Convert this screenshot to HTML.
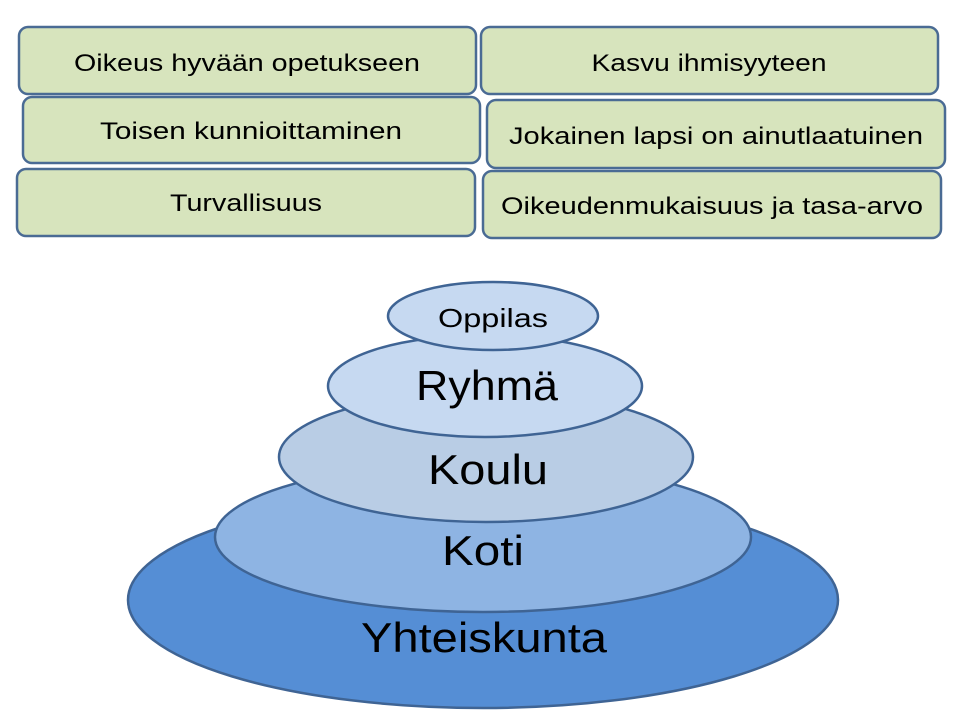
<!DOCTYPE html>
<html><head><meta charset="utf-8"><style>body{margin:0;background:#fff}svg{display:block}</style></head>
<body>
<svg width="960" height="720" xmlns="http://www.w3.org/2000/svg" font-family="Liberation Sans, sans-serif">
<g fill="#d7e4bd" stroke="#4a6b94" stroke-width="2.5">
<rect x="19" y="27" width="457" height="67" rx="9"/>
<rect x="481" y="27" width="457" height="67" rx="9"/>
<rect x="23" y="97" width="457" height="66" rx="9"/>
<rect x="487" y="100" width="458" height="68" rx="9"/>
<rect x="17" y="169" width="458" height="67" rx="9"/>
<rect x="483" y="171" width="458" height="67" rx="9"/>
</g>
<g font-size="24" fill="#000" text-anchor="middle">
<text x="247" y="71" textLength="346" lengthAdjust="spacingAndGlyphs">Oikeus hyvään opetukseen</text>
<text x="709" y="71" textLength="235" lengthAdjust="spacingAndGlyphs">Kasvu ihmisyyteen</text>
<text x="251" y="139" textLength="302" lengthAdjust="spacingAndGlyphs">Toisen kunnioittaminen</text>
<text x="716" y="144" textLength="414" lengthAdjust="spacingAndGlyphs">Jokainen lapsi on ainutlaatuinen</text>
<text x="246" y="211" textLength="152" lengthAdjust="spacingAndGlyphs">Turvallisuus</text>
<text x="712" y="214" textLength="422" lengthAdjust="spacingAndGlyphs">Oikeudenmukaisuus ja tasa-arvo</text>
</g>
<g stroke="#3f6494" stroke-width="2.5">
<ellipse cx="483" cy="600" rx="355" ry="108" fill="#558ed5"/>
<ellipse cx="483" cy="537" rx="268" ry="75" fill="#8eb4e3"/>
<ellipse cx="486" cy="457" rx="207" ry="65" fill="#b9cde5"/>
<ellipse cx="485" cy="386" rx="157" ry="51" fill="#c6d9f1"/>
<ellipse cx="493" cy="316" rx="105" ry="34" fill="#c6d9f1"/>
</g>
<g fill="#000" text-anchor="middle">
<text x="493" y="327" font-size="26" textLength="110" lengthAdjust="spacingAndGlyphs">Oppilas</text>
<text x="487" y="400" font-size="42" textLength="142" lengthAdjust="spacingAndGlyphs">Ryhmä</text>
<text x="488" y="484" font-size="42" textLength="120" lengthAdjust="spacingAndGlyphs">Koulu</text>
<text x="483" y="565" font-size="42" textLength="82" lengthAdjust="spacingAndGlyphs">Koti</text>
<text x="484" y="652" font-size="42" textLength="246" lengthAdjust="spacingAndGlyphs">Yhteiskunta</text>
</g>
</svg>
</body></html>
